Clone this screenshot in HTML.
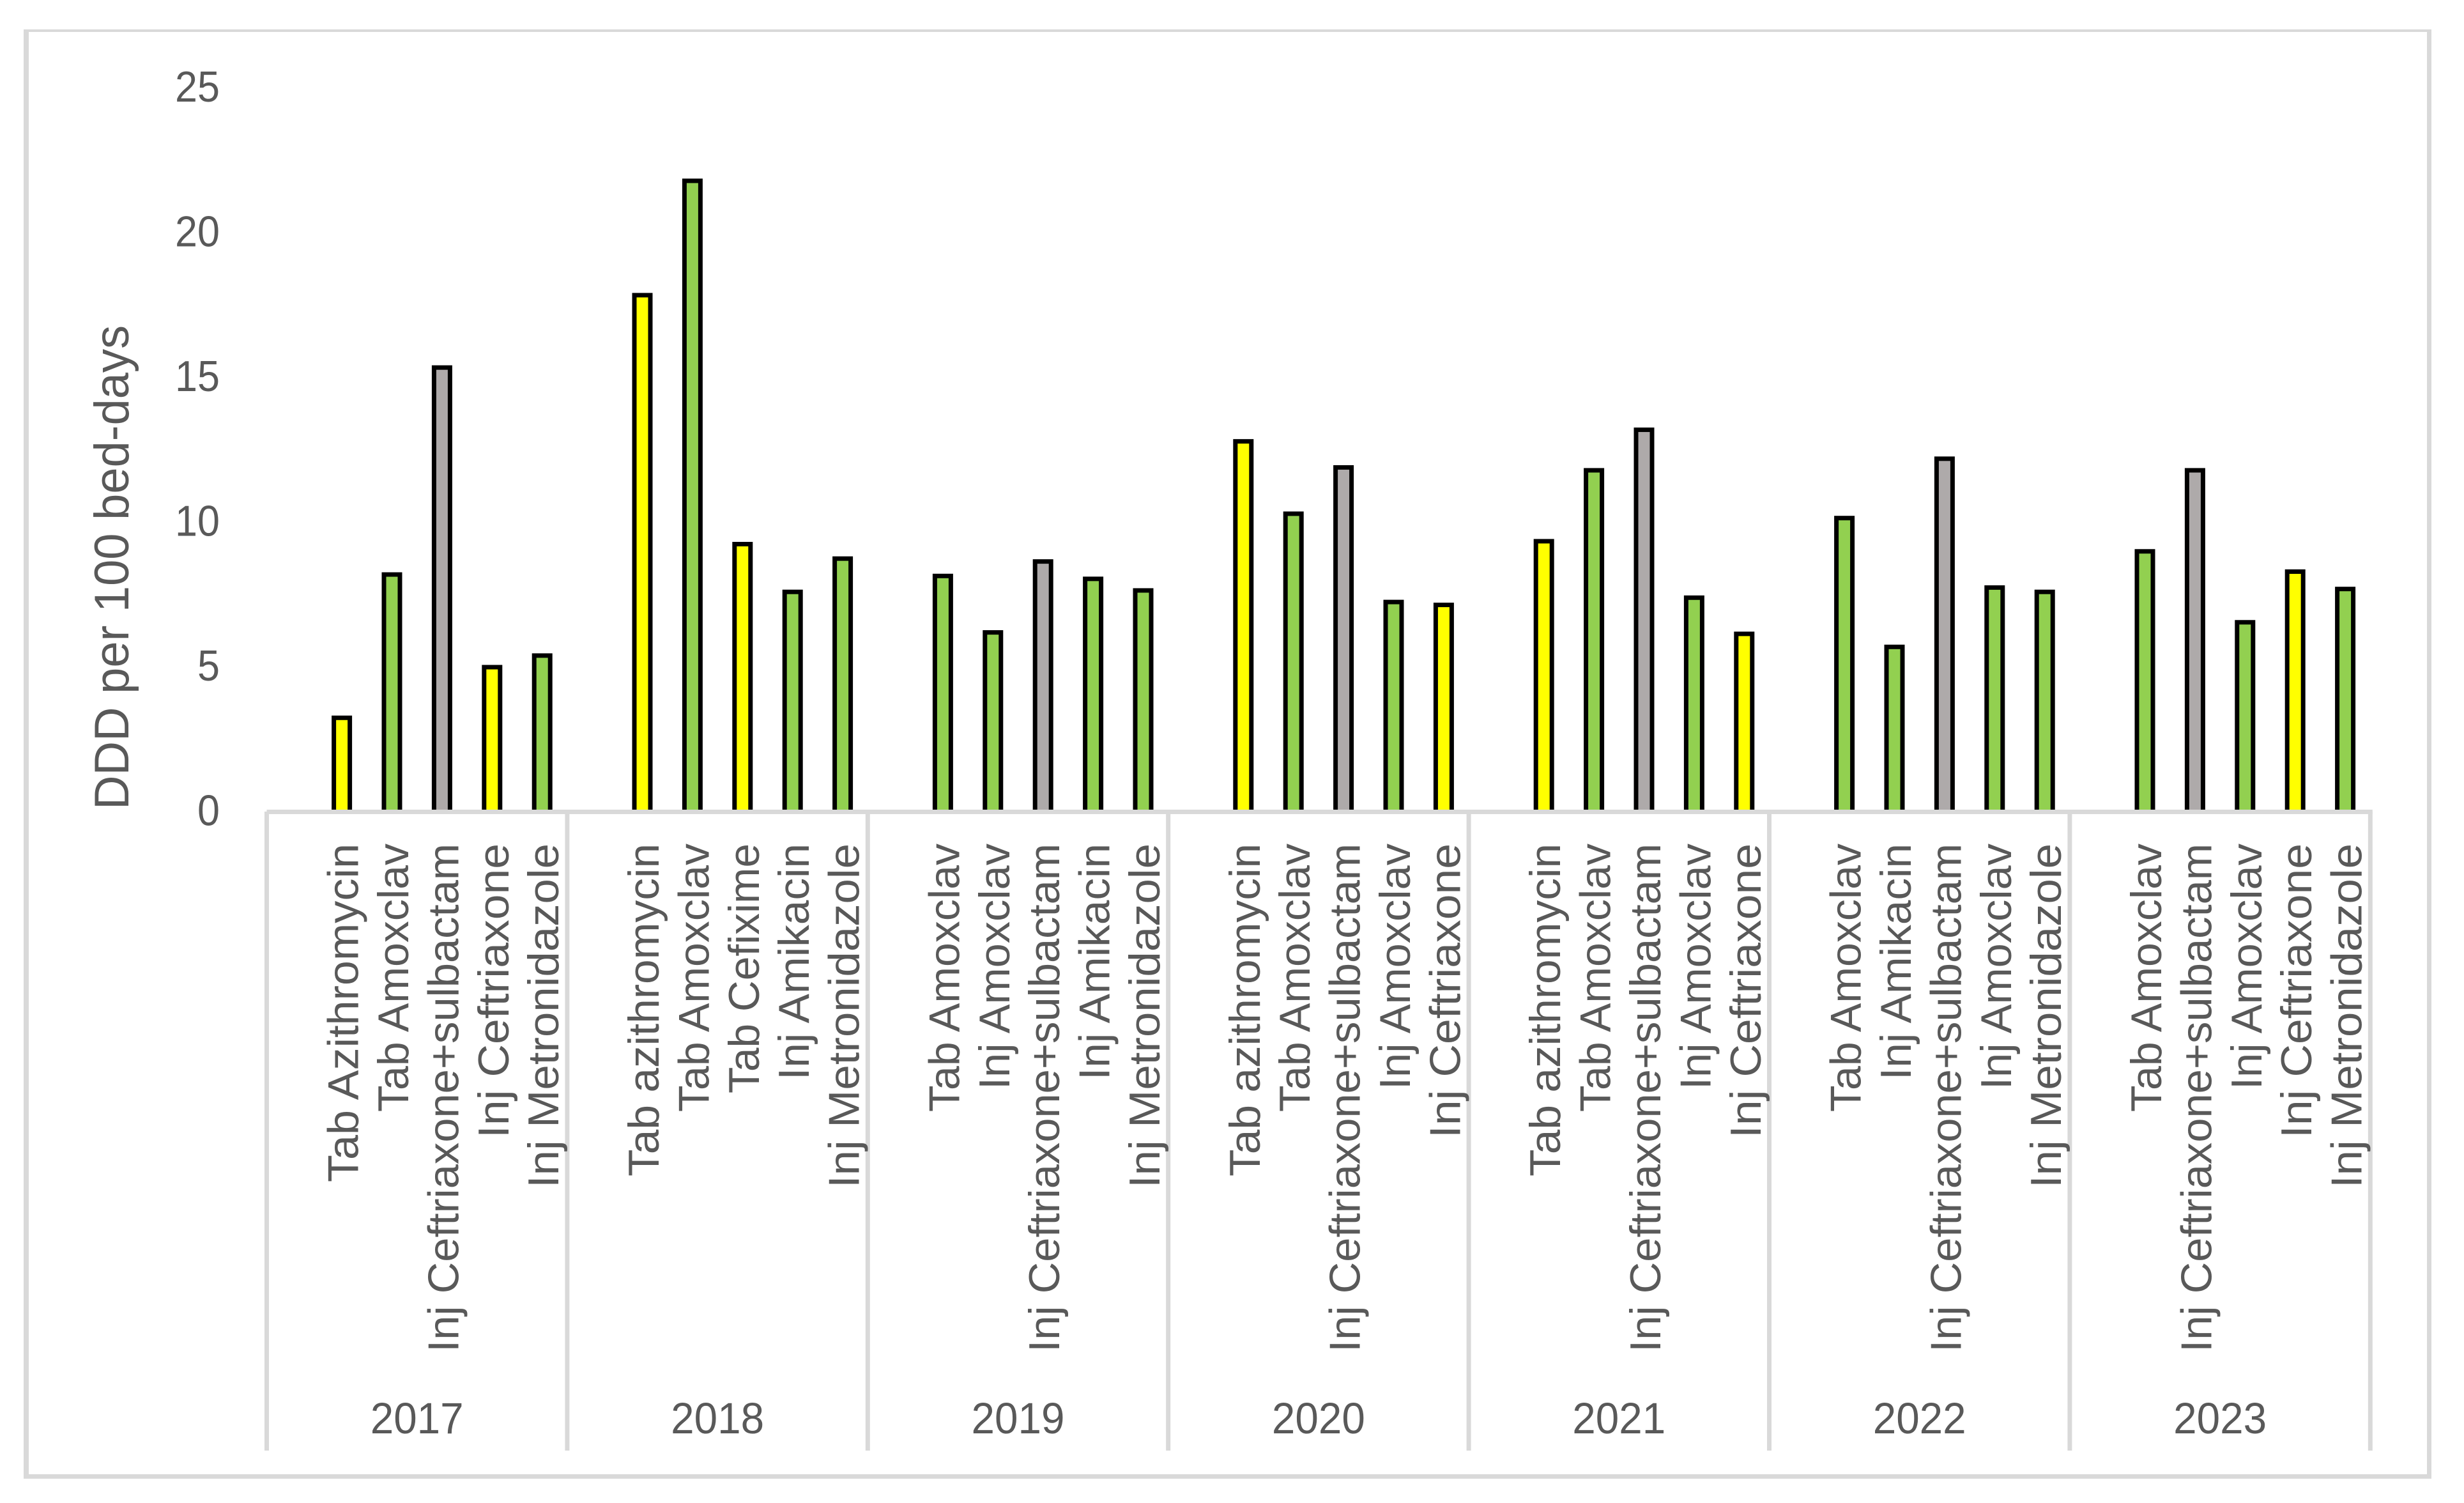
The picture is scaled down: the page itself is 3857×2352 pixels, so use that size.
<!DOCTYPE html>
<html lang="en">
<head>
<meta charset="utf-8">
<title>DDD per 100 bed-days by year</title>
<style>
html,body{margin:0;padding:0;background:#fff;}
svg{display:block;}
text{font-family:"Liberation Sans",sans-serif;fill:#595959;}
</style>
</head>
<body>
<svg id="chart" xmlns="http://www.w3.org/2000/svg" width="3857" height="2352" viewBox="0 0 3857 2352">
<rect x="0" y="0" width="3857" height="2352" fill="#ffffff"/>
<g fill="#d9d9d9">
<rect x="37" y="46" width="3769" height="4"/>
<rect x="37" y="46" width="8" height="2268"/>
<rect x="37" y="2307" width="3769" height="7"/>
<rect x="3799" y="46" width="7" height="2268"/>
</g>
<text transform="translate(201,1267) rotate(-90)" font-size="76" textLength="758" lengthAdjust="spacingAndGlyphs">DDD per 100 bed-days</text>
<g id="bars"></g>
<g id="axes"></g>
<g id="labels"></g>
</svg>
<script>
const years = ['2017','2018','2019','2020','2021','2022','2023'];
const drugs2017 = ['Tab Azithromycin','Tab Amoxclav','Inj Ceftriaxone+sulbactam','Inj Ceftriaxone','Inj Metronidazole'];
const drugs2018 = ['Tab azithromycin','Tab Amoxclav','Tab Cefixime','Inj Amikacin','Inj Metronidazole'];
const drugs2019 = ['Tab Amoxclav','Inj Amoxclav','Inj Ceftriaxone+sulbactam','Inj Amikacin','Inj Metronidazole'];
const drugs2020 = ['Tab azithromycin','Tab Amoxclav','Inj Ceftriaxone+sulbactam','Inj Amoxclav','Inj Ceftriaxone'];
const drugs2021 = ['Tab azithromycin','Tab Amoxclav','Inj Ceftriaxone+sulbactam','Inj Amoxclav','Inj Ceftriaxone'];
const drugs2022 = ['Tab Amoxclav','Inj Amikacin','Inj Ceftriaxone+sulbactam','Inj Amoxclav','Inj Metronidazole'];
const drugs2023 = ['Tab Amoxclav','Inj Ceftriaxone+sulbactam','Inj Amoxclav','Inj Ceftriaxone','Inj Metronidazole'];
const values2017 = [3.25,8.2,15.35,5.0,5.4];
const values2018 = [17.85,21.8,9.25,7.6,8.75];
const values2019 = [8.15,6.2,8.65,8.05,7.65];
const values2020 = [12.8,10.3,11.9,7.25,7.15];
const values2021 = [9.35,11.8,13.2,7.4,6.15];
const values2022 = [10.15,5.7,12.2,7.75,7.6];
const values2023 = [9.0,11.8,6.55,8.3,7.7];
const yTicks = [0,5,10,15,20,25];
const NS = 'http://www.w3.org/2000/svg';
const drugsByYear = [drugs2017,drugs2018,drugs2019,drugs2020,drugs2021,drugs2022,drugs2023];
const valuesByYear = [values2017,values2018,values2019,values2020,values2021,values2022,values2023];
const AXIS_LEFT = 417.5;
const GROUP_W = 470.4;
const SLOT_W = GROUP_W / 6;
const Y_ZERO = 1270.5;
const UNIT = 45.3;
function y(v){ return Y_ZERO - v * UNIT; }
function groupX(g){ return AXIS_LEFT + g * GROUP_W; }
function barX(g, i){ return groupX(g) + (i + 1.5) * SLOT_W; }
function drugColor(name){
  if (name.indexOf('+') >= 0) return '#aeaaaa';
  if (/azithromycin|ceftriaxone|cefixime/i.test(name)) return '#ffff00';
  return '#92d050';
}
function labelFit(name){
  switch (name) {
    case 'Tab Azithromycin': return 530;
    case 'Tab azithromycin': return 521;
    case 'Tab Amoxclav': return 420;
    case 'Inj Ceftriaxone+sulbactam': return 796;
    case 'Inj Ceftriaxone': return 461;
    case 'Inj Metronidazole': return 539;
    case 'Tab Cefixime': return 391;
    case 'Inj Amikacin': return 370;
    case 'Inj Amoxclav': return 385;
  }
  return 400;
}
const barsLayer = document.getElementById('bars');
const axesLayer = document.getElementById('axes');
const labelsLayer = document.getElementById('labels');
function mk(tag, attrs, parent){
  const el = document.createElementNS(NS, tag);
  for (const k in attrs) el.setAttribute(k, attrs[k]);
  parent.appendChild(el);
  return el;
}
years.forEach(function(year, g){
  drugsByYear[g].forEach(function(drug, i){
    const v = valuesByYear[g][i];
    const cx = barX(g, i);
    const top = y(v);
    const bar = mk('rect', {x: cx - 12.5, y: top, width: 25, height: Y_ZERO - top, fill: drugColor(drug), stroke: '#000000', 'stroke-width': 7}, barsLayer);
    
    
    const label = mk('text', {transform: 'translate(' + (cx + 25.5) + ',1320) rotate(-90)', 'text-anchor': 'end', 'font-size': 68, textLength: labelFit(drug), lengthAdjust: 'spacingAndGlyphs'}, labelsLayer);
    label.textContent = drug;
    
    
  });
  const yl = mk('text', {x: groupX(g) + GROUP_W / 2, y: 2243, 'text-anchor': 'middle', 'font-size': 69, textLength: 146, lengthAdjust: 'spacingAndGlyphs'}, labelsLayer);
  yl.textContent = year;
  
  
});
const baseline = mk('rect', {x: AXIS_LEFT, y: 1267, width: 7 * GROUP_W + 3.5, height: 7, fill: '#d9d9d9'}, axesLayer);


for (let g = 0; g <= years.length; g++) {
  const sep = mk('rect', {x: groupX(g) - 3.5, y: 1270, width: 7, height: 1000, fill: '#d9d9d9'}, axesLayer);
  
  
}
yTicks.forEach(function(t){
  const s = String(t);
  const tick = mk('text', {x: 344, y: y(t) + 21, 'text-anchor': 'end', 'font-size': 68, textLength: s.length * 35, lengthAdjust: 'spacingAndGlyphs'}, labelsLayer);
  tick.textContent = s;
  
  
});
</script>
</body>
</html>
